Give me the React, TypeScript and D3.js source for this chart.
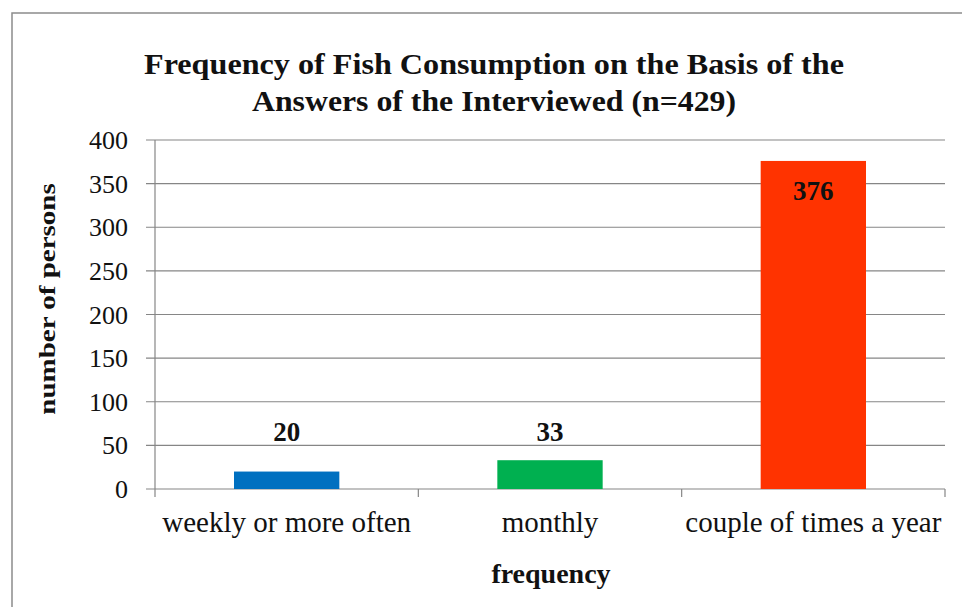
import React from "react";
import * as d3 from "d3";

const categories = ["weekly or more often", "monthly", "couple of times a year"];
const values = [20, 33, 376];
const colors = ["#0070C0", "#00B050", "#FF3300"];
const yTicks = [0, 50, 100, 150, 200, 250, 300, 350, 400];
const titleLines = ["Frequency  of Fish  Consumption  on the Basis of the", "Answers of the Interviewed (n=429)"];
const titleWidths = [700, 484];

export default function App() {
  const W = 962, H = 607;
  const left = 155, right = 945, top = 140, bottom = 489;
  const x = d3.scaleBand<string>().domain(categories).range([left, right]).paddingInner(0.6).paddingOuter(0.3);
  const y = d3.scaleLinear().domain([0, 400]).range([bottom, top]);
  const step = x.step();
  const boundaries = categories.map((_, i) => left + i * step).concat([right]);
  const font = "'Liberation Serif', 'Times New Roman', serif";
  const grid = "#868686";
  return (
    <svg width={W} height={H} style={{ position: "absolute", left: 0, top: 0, background: "#fff" }} fontFamily={font}>
      <rect x={12} y={13} width={960} height={620} fill="#fff" stroke="#8c8c8c" strokeWidth={1.5} />
      {titleLines.map((t, i) => (
        <text key={i} x={494} y={74 + i * 37} textAnchor="middle" fontWeight="bold" fontSize={30} fill="#111"
          textLength={titleWidths[i]} lengthAdjust="spacingAndGlyphs">{t}</text>
      ))}
      {yTicks.map((t) => (
        <g key={t}>
          <line x1={146} x2={right} y1={y(t)} y2={y(t)} stroke={grid} strokeWidth={1.2} />
          <text x={128} y={y(t)} dy="0.35em" textAnchor="end" fontSize={26} fill="#111">{t}</text>
        </g>
      ))}
      <line x1={left} x2={left} y1={top} y2={bottom} stroke={grid} strokeWidth={1.2} />
      {boundaries.map((b, i) => (
        <line key={i} x1={b} x2={b} y1={bottom} y2={bottom + 8} stroke={grid} strokeWidth={1.2} />
      ))}
      {categories.map((c, i) => (
        <g key={c}>
          <rect x={x(c)} y={y(values[i])} width={x.bandwidth()} height={bottom - y(values[i])} fill={colors[i]} />
          <text x={(x(c) as number) + x.bandwidth() / 2} y={532} textAnchor="middle" fontSize={29} fill="#111">{c}</text>
          <text
            x={(x(c) as number) + x.bandwidth() / 2}
            y={values[i] > 100 ? y(values[i]) + 39 : y(50) - 4}
            textAnchor="middle" fontWeight="bold" fontSize={27} fill="#111"
          >{values[i]}</text>
        </g>
      ))}
      <text x={551} y={583} textAnchor="middle" fontWeight="bold" fontSize={28} fill="#111">frequency</text>
      <text transform={`translate(55,299) rotate(-90) scale(1,0.8)`} textAnchor="middle" fontWeight="bold" fontSize={29} fill="#111">number  of persons</text>
    </svg>
  );
}
